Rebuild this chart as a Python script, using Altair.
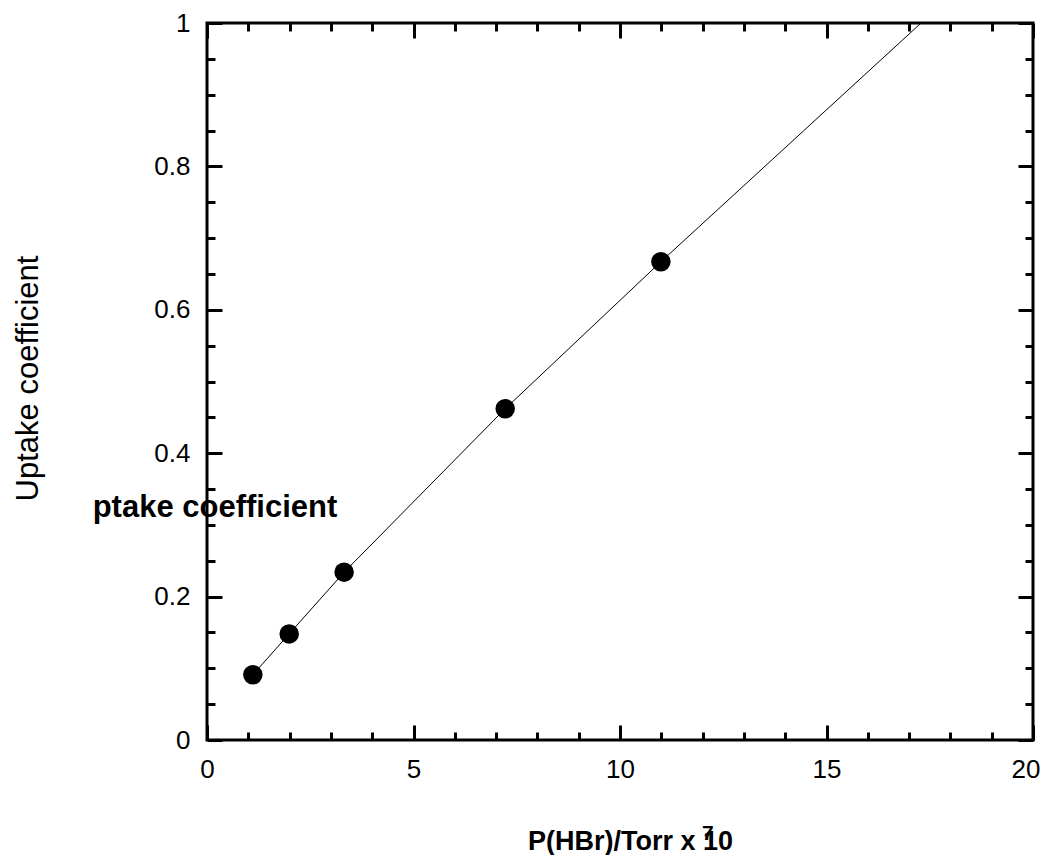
import altair as alt
import pandas as pd

# ---- data ----
pressure = [1.11, 1.99, 3.32, 7.22, 10.99]
uptake = [0.091, 0.148, 0.234, 0.462, 0.667]
line_pressure = [1.11, 1.99, 3.32, 7.22, 10.99, 17.29]
line_uptake = [0.091, 0.148, 0.234, 0.462, 0.667, 1.0]

x_major = [0, 5, 10, 15, 20]
x_labels_main = [0, 5, 10, 15]
x_labels_last = [20]
x_minor = [1, 2, 3, 4, 6, 7, 8, 9, 11, 12, 13, 14, 16, 17, 18, 19]
y_major = [0, 0.2, 0.4, 0.6, 0.8, 1.0]
y_minor = [0.05, 0.1, 0.15, 0.25, 0.3, 0.35, 0.45, 0.5, 0.55, 0.65,
           0.7, 0.75, 0.85, 0.9, 0.95]

x_title = "P(HBr)/Torr x 10"
y_title = "Uptake coefficient"
overlay_text = ["ptake coefficient"]
superscript = ["7"]

W, H = 826, 717
FONT = "Liberation Sans"

pts = pd.DataFrame({"p": pressure, "u": uptake})
fit = pd.DataFrame({"p": line_pressure, "u": line_uptake})

xs = alt.Scale(domain=[0, 20], nice=False, zero=False)
ys = alt.Scale(domain=[0, 1], nice=False, zero=False)


def tick_axis(orient, values, size, offset):
    return alt.Axis(orient=orient, values=values, tickSize=size, offset=offset,
                    labels=False, domain=False, grid=False, title="",
                    ticks=True, tickColor="black", tickWidth=3)


# layer 1: fitted line + labelled axes
line = alt.Chart(fit).mark_line(color="black", strokeWidth=1).encode(
    x=alt.X("p:Q", scale=xs, axis=alt.Axis(
        orient="bottom", values=x_labels_main, format="d", ticks=False, tickSize=0,
        domain=False, grid=False, labelFlush=False, labelPadding=16,
        labelFont=FONT, labelFontSize=26, labelColor="black",
        title=x_title, titleFont=FONT, titleFontSize=27, titleFontWeight="bold",
        titleColor="black", titleX=423, titleY=109, titleAlign="center",
        titleBaseline="alphabetic")),
    y=alt.Y("u:Q", scale=ys, axis=alt.Axis(
        orient="left", values=y_major, format="~g", ticks=False, tickSize=0,
        domain=False, grid=False, labelFlush=False, labelPadding=17,
        labelFont=FONT, labelFontSize=26, labelColor="black",
        title=y_title, titleFont=FONT, titleFontSize=31, titleFontWeight="normal",
        titleColor="black", titleX=-179, titleY=355, titleAngle=270,
        titleAlign="center", titleBaseline="middle")),
    order=alt.Order("p:Q"),
)

# the last x label, kept inside the page edge
last_label = alt.Chart(pts).mark_circle(opacity=0).encode(
    x=alt.X("p:Q", scale=xs, axis=alt.Axis(
        orient="bottom", values=x_labels_last, format="d", ticks=False, tickSize=0,
        domain=False, grid=False, labelFlush=False, labelPadding=16,
        labelAlign="right", labelOffset=7,
        labelFont=FONT, labelFontSize=26, labelColor="black", title="")),
    y=alt.Y("u:Q", scale=ys, axis=None),
)

# layer 2: the points, carrying inward major ticks on bottom and left lines
points = alt.Chart(pts).mark_circle(color="black", opacity=1, size=380).encode(
    x=alt.X("p:Q", scale=xs, axis=tick_axis("top", x_major, 15, -H)),
    y=alt.Y("u:Q", scale=ys, axis=tick_axis("right", y_major, 15, -W)),
)

# invisible layers carrying the remaining inward ticks
minor_bl = alt.Chart(pts).mark_circle(opacity=0).encode(
    x=alt.X("p:Q", scale=xs, axis=tick_axis("top", x_minor, 8, -H)),
    y=alt.Y("u:Q", scale=ys, axis=tick_axis("right", y_minor, 8, -W)),
)
major_tr = alt.Chart(pts).mark_circle(opacity=0).encode(
    x=alt.X("p:Q", scale=xs, axis=tick_axis("bottom", x_major, 15, -H)),
    y=alt.Y("u:Q", scale=ys, axis=tick_axis("left", y_major, 15, -W)),
)
minor_tr = alt.Chart(pts).mark_circle(opacity=0).encode(
    x=alt.X("p:Q", scale=xs, axis=tick_axis("bottom", x_minor, 8, -H)),
    y=alt.Y("u:Q", scale=ys, axis=tick_axis("left", y_minor, 8, -W)),
)

overlay = alt.Chart(pd.DataFrame({"t": overlay_text})).mark_text(
    font=FONT, fontSize=31, fontWeight="bold", color="black",
    align="center", baseline="alphabetic",
).encode(x=alt.value(8), y=alt.value(494), text="t:N")

sup = alt.Chart(pd.DataFrame({"t": superscript})).mark_text(
    font=FONT, fontSize=21, fontWeight="bold", color="black",
    align="left", baseline="alphabetic",
).encode(x=alt.value(495), y=alt.value(817), text="t:N")

chart = alt.layer(line, last_label, points, minor_bl, major_tr, minor_tr, overlay, sup).resolve_axis(
    x="independent", y="independent"
).properties(
    width=W, height=H,
    autosize=alt.AutoSizeParams(type="none"),
    padding={"left": 199, "top": 15, "right": 8, "bottom": 115},
    background="white",
).configure_view(stroke="black", strokeWidth=3)

chart.save("out.html", embed_options={"renderer": "svg", "actions": False})
